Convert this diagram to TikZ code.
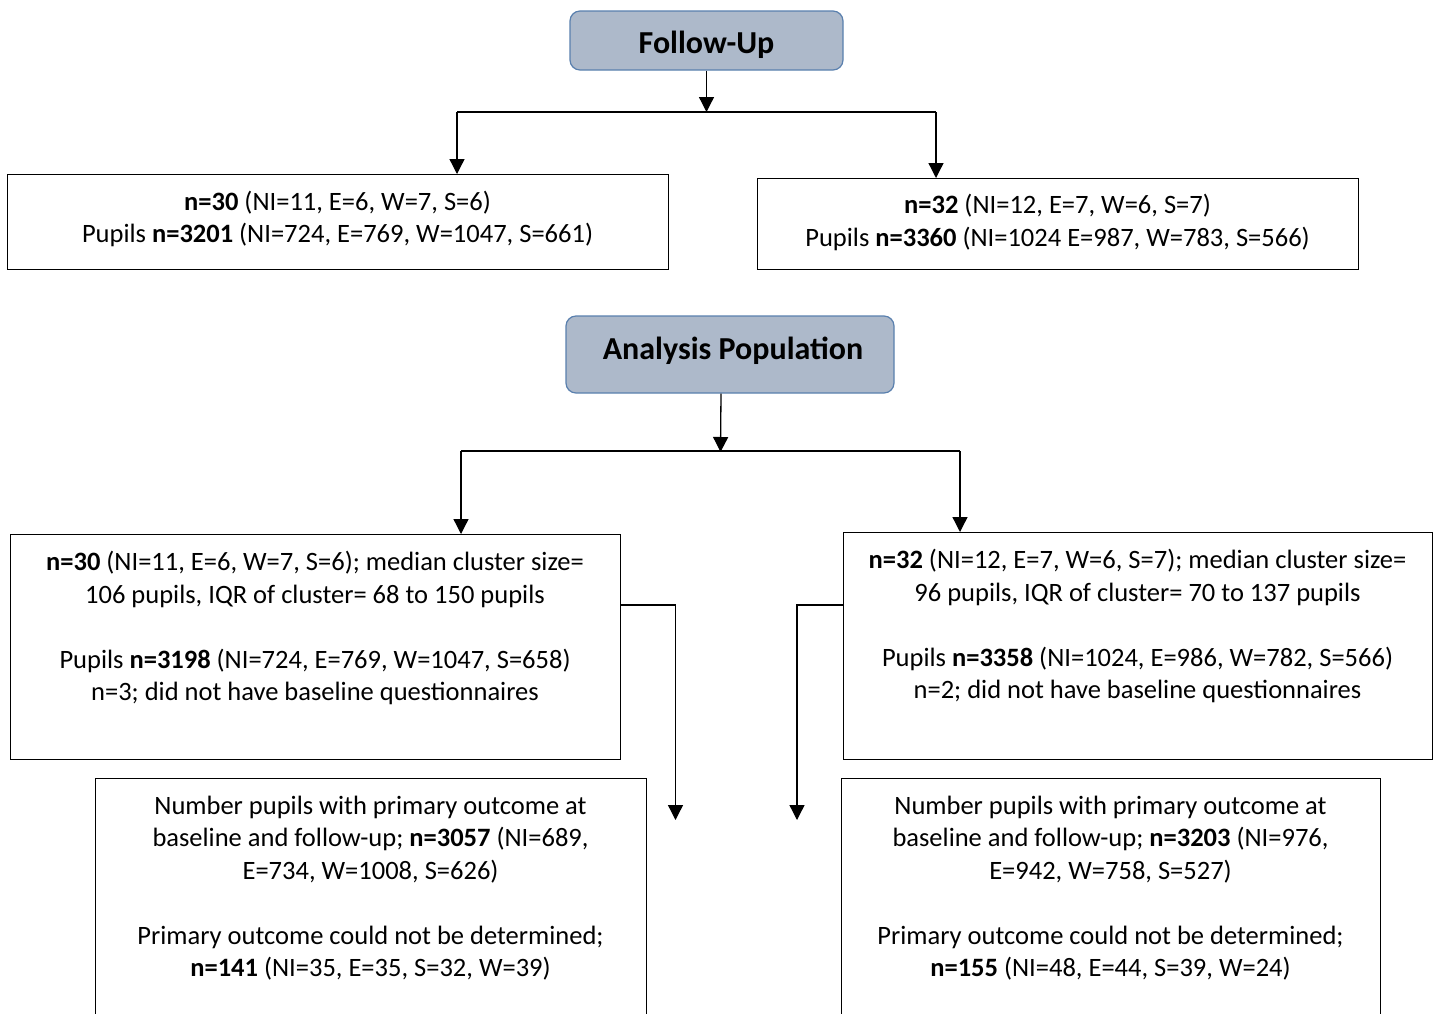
\documentclass[tikz,border=0pt]{standalone}
\usepackage{fontspec}
\setmainfont{Carlito}
\usetikzlibrary{arrows.meta}
\definecolor{headfill}{HTML}{ADB9CA}
\definecolor{headline}{HTML}{5A80AE}
\tikzset{
  head/.style={draw=headline, fill=headfill, rounded corners=10pt, line width=1.2pt, inner sep=0pt},
  headtxt/.style={inner sep=0pt, font=\fontsize{32}{38}\selectfont\bfseries},
  box/.style={draw=black, line width=1.3pt, inner sep=0pt, anchor=north west},
  txt/.style={align=center, inner sep=0pt, font=\fontsize{26.5}{32.5}\selectfont},
  link/.style={line width=1.3pt},
  arr/.style={line width=1.3pt, -{Triangle[width=15pt,length=15pt]}}
}
\begin{document}
\begin{tikzpicture}[x=1pt,y=-1pt]
\clip (0,0) rectangle (1438,1013);
\fill[white] (0,0) rectangle (1438,1013);

% first stage
\node[head, minimum width=273pt, minimum height=59pt] (fu) at (706.5,40.5) {};
\node[headtxt] (fut) at (706.5,44.5) {Follow-Up};
\node[box, minimum width=661pt, minimum height=95pt] (l1) at (7,174) {};
\node[box, minimum width=601pt, minimum height=91pt] (r1) at (757,178) {};
\node[txt] (l1t) at (337.5,219) {\textbf{n=30} (NI=11, E=6, W=7, S=6)\\Pupils \textbf{n=3201} (NI=724, E=769, W=1047, S=661)};
\node[txt] (r1t) at (1057.5,222.5) {\textbf{n=32} (NI=12, E=7, W=6, S=7)\\Pupils \textbf{n=3360} (NI=1024 E=987, W=783, S=566)};

\coordinate (fuL) at (457,112);
\coordinate (fuR) at (936,112);
\draw[arr] (fu.south) -- (fu.south |- fuL);
\draw[link] (fuL) -- (fuR);
\draw[arr] (fuL) -- (fuL |- l1.north);
\draw[arr] (fuR) -- (fuR |- r1.north);

% analysis population
\node[head, minimum width=328pt, minimum height=77pt] (ap) at (730,354.5) {};
\node[headtxt] (apt) at (733,351) {Analysis Population};
\node[box, minimum width=610pt, minimum height=225pt] (l2) at (10,534) {};
\node[box, minimum width=589pt, minimum height=227pt] (r2) at (843,532) {};
\node[txt] (l2t) at (315,628) {\textbf{n=30} (NI=11, E=6, W=7, S=6); median cluster size=\\106 pupils, IQR of cluster= 68 to 150 pupils\\[32.5pt]Pupils \textbf{n=3198} (NI=724, E=769, W=1047, S=658)\\n=3; did not have baseline questionnaires};
\node[txt] (r2t) at (1137.5,626) {\textbf{n=32} (NI=12, E=7, W=6, S=7); median cluster size=\\96 pupils, IQR of cluster= 70 to 137 pupils\\[32.5pt]Pupils \textbf{n=3358} (NI=1024, E=986, W=782, S=566)\\n=2; did not have baseline questionnaires};

\coordinate (apL) at (461,451);
\coordinate (apR) at (960,451);
\draw[arr] (ap.south -| 721,0) -- (720.5,452);
\draw[link] (apL) -- (apR);
\draw[arr] (apL) -- (apL |- l2.north);
\draw[arr] (apR) -- (apR |- r2.north);

% primary outcome
\node[box, minimum width=551pt, minimum height=300pt] (l3) at (95,778) {};
\node[box, minimum width=539pt, minimum height=300pt] (r3) at (841,778) {};
\node[txt] (l3t) at (370.5,888) {Number pupils with primary outcome at\\baseline and follow-up; \textbf{n=3057} (NI=689,\\E=734, W=1008, S=626)\\[32.5pt]Primary outcome could not be determined;\\\textbf{n=141} (NI=35, E=35, S=32, W=39)};
\node[txt] (r3t) at (1110.5,888) {Number pupils with primary outcome at\\baseline and follow-up; \textbf{n=3203} (NI=976,\\E=942, W=758, S=527)\\[32.5pt]Primary outcome could not be determined;\\\textbf{n=155} (NI=48, E=44, S=39, W=24)};

\coordinate (l2out) at (675.5,605);
\coordinate (l2end) at (675.5,820);
\coordinate (r2out) at (797,605);
\coordinate (r2end) at (797,820);
\draw[arr] (l2.east |- l2out) -- (l2out) -- (l2end);
\draw[arr] (r2.west |- r2out) -- (r2out) -- (r2end);
\end{tikzpicture}
\end{document}
